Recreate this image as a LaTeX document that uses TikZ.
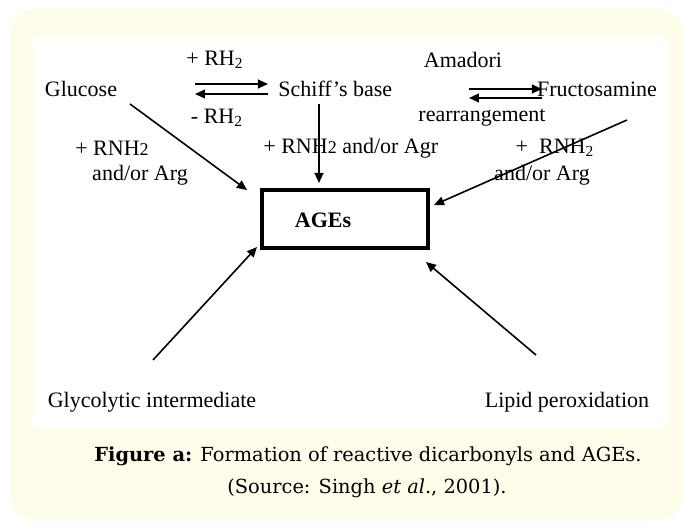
\documentclass[tikz,border=0pt]{standalone}
\usepackage{fontspec}
\setmainfont{Liberation Serif}
\newfontfamily\capfont{DejaVu Serif}
\usetikzlibrary{arrows.meta}
\definecolor{creambg}{RGB}{255,252,234}
\begin{document}
\begin{tikzpicture}[x=0.5pt,y=-0.5pt,
    lbl/.style={inner sep=0pt,font=\fontsize{11}{13}\selectfont},
    rxn/.style={line width=0.8pt,-{Triangle[length=5pt,width=4.4pt]}},
    agebox/.style={draw,line width=2pt,minimum width=83pt,minimum height=29pt,inner sep=0pt}]
  \useasboundingbox (0,0) rectangle (693,529);
  \fill[creambg,rounded corners=12.5pt] (10,9) rectangle (683,520);
  \fill[white] (33,37) rectangle (669,427);
  % compounds
  \node[lbl] (glucose) at (81,89) {Glucose};
  \node[lbl,anchor=west] (schiff) at (278,89) {Schiff's base};
  \node[lbl] (fructo) at (597,89) {Fructosamine};
  \node[agebox] (ages) at (345,219) {};
  \node[lbl,font=\fontsize{11}{13}\selectfont\bfseries] (agestxt) at (323,220) {AGEs};
  \node[lbl] (glyco) at (152,402) {Glycolytic intermediate};
  \node[lbl] (lipid) at (567,402) {Lipid peroxidation};
  % reagents
  \node[lbl] (rhplus) at (215,60) {+ RH\textsubscript{2}};
  \node[lbl] (rhminus) at (217,118) {- RH\textsubscript{2}};
  \node[lbl] (amadori) at (463,60) {Amadori};
  \node[lbl] (rearr) at (482,118) {rearrangement};
  \node[lbl] (rnhleft) at (112,148) {+ RNH{\fontsize{9}{11}\selectfont 2}};
  \node[lbl] (argleft) at (140,175) {and/or Arg};
  \node[lbl,anchor=west] (rnhmid) at (263,148) {+ RNH{\fontsize{9}{11}\selectfont 2} and/or Agr};
  \node[lbl] (rnhright) at (555,148) {+\ \ RNH\textsubscript{2}};
  \node[lbl] (argright) at (542,175) {and/or Arg};
  % arrow ends
  \coordinate (gA) at (130,104);
  \coordinate (gB) at (247,190);
  \coordinate (sA) at (319,104);
  \coordinate (sB) at (319,183);
  \coordinate (fA) at (627,120);
  \coordinate (fB) at (434,205);
  \coordinate (yA) at (153,360);
  \coordinate (yB) at (257,247);
  \coordinate (pA) at (536,355);
  \coordinate (pB) at (426,262);
  \coordinate (e1) at (195,84);
  \coordinate (e2) at (268,84);
  \coordinate (e3) at (268,94);
  \coordinate (e4) at (195,94);
  \coordinate (e5) at (469,89);
  \coordinate (e6) at (542,89);
  \coordinate (e7) at (542,98);
  \coordinate (e8) at (469,98);
  % equilibria
  \draw[rxn] (e1) -- (e2);
  \draw[rxn] (e3) -- (e4);
  \draw[rxn] (e5) -- (e6);
  \draw[rxn] (e7) -- (e8);
  % routes to AGEs
  \draw[rxn] (gA) -- (gB);
  \draw[rxn] (sA) -- (sB);
  \draw[rxn] (fA) -- (fB);
  \draw[rxn] (yA) -- (yB);
  \draw[rxn] (pA) -- (pB);
  % caption
  \node[inner sep=0pt,font=\capfont\fontsize{9.7}{12}\selectfont] (capone) at (368,456)
    {\textbf{Figure a:} Formation of reactive dicarbonyls and AGEs.};
  \node[inner sep=0pt,font=\capfont\fontsize{9.7}{12}\selectfont] (captwo) at (367,488)
    {(Source: Singh \textit{et al.}, 2001).};
\end{tikzpicture}
\end{document}
